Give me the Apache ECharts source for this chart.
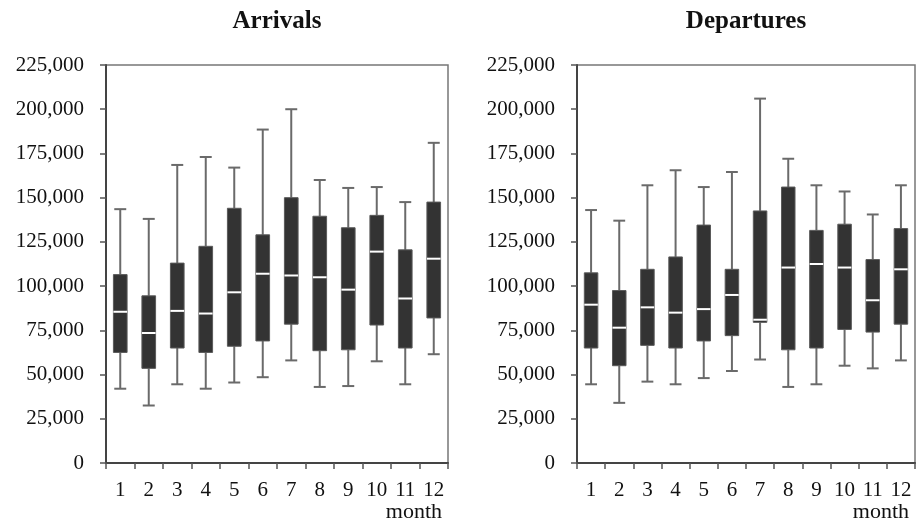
<!DOCTYPE html>
<html>
<head>
<meta charset="utf-8">
<script src="https://cdn.jsdelivr.net/npm/echarts@6/dist/echarts.min.js"></script>
<style>
html,body{margin:0;padding:0;background:#fff;}
#chart{width:916px;height:524px;}
</style>
</head>
<body>
<div id="chart"></div>
<script>
var months = ['1','2','3','4','5','6','7','8','9','10','11','12'];
var yTicks = [0, 25000, 50000, 75000, 100000, 125000, 150000, 175000, 200000, 225000];
var titles = ['Arrivals', 'Departures'];
var xAxisName = 'month';

var arrLow  = [42000, 32500, 44500, 42000, 45500, 48500, 58000, 43000, 43500, 57500, 44500, 61500];
var arrQ1   = [62500, 53500, 65000, 62500, 66000, 69000, 78500, 63500, 64000, 78000, 65000, 82000];
var arrMed  = [85500, 73500, 86000, 84500, 96500, 107000, 106000, 105000, 98000, 119500, 93000, 115500];
var arrQ3   = [106500, 94500, 113000, 122500, 144000, 129000, 150000, 139500, 133000, 140000, 120500, 147500];
var arrHigh = [143500, 138000, 168500, 173000, 167000, 188500, 200000, 160000, 155500, 156000, 147500, 181000];

var depLow  = [44500, 34000, 46000, 44500, 48000, 52000, 58500, 43000, 44500, 55000, 53500, 58000];
var depQ1   = [65000, 55000, 66500, 65000, 69000, 72000, 79500, 64000, 65000, 75500, 74000, 78500];
var depMed  = [89500, 76500, 88000, 85000, 87000, 95000, 81000, 110500, 112500, 110500, 92000, 109500];
var depQ3   = [107500, 97500, 109500, 116500, 134500, 109500, 142500, 156000, 131500, 135000, 115000, 132500];
var depHigh = [143000, 137000, 157000, 165500, 156000, 164500, 206000, 172000, 157000, 153500, 140500, 157000];

function buildRows(lo, q1, med, q3, hi) {
  return months.map(function (m, i) { return [i, lo[i], q1[i], med[i], q3[i], hi[i]]; });
}

var FONT = '"Liberation Serif", "DejaVu Serif", serif';

function renderBox(params, api) {
  var x = api.value(0);
  var pLow = api.coord([x, api.value(1)]);
  var pQ1 = api.coord([x, api.value(2)]);
  var pMed = api.coord([x, api.value(3)]);
  var pQ3 = api.coord([x, api.value(4)]);
  var pHigh = api.coord([x, api.value(5)]);
  var band = api.size([1, 0])[0];
  var bw = band * 0.48;
  var cw = band * 0.42;
  var cx = pMed[0];
  var wStyle = { stroke: '#6a6a6a', lineWidth: 2 };
  return {
    type: 'group',
    children: [
      { type: 'line', shape: { x1: cx, y1: pQ3[1], x2: cx, y2: pHigh[1] }, style: wStyle },
      { type: 'line', shape: { x1: cx - cw / 2, y1: pHigh[1], x2: cx + cw / 2, y2: pHigh[1] }, style: wStyle },
      { type: 'line', shape: { x1: cx, y1: pQ1[1], x2: cx, y2: pLow[1] }, style: wStyle },
      { type: 'line', shape: { x1: cx - cw / 2, y1: pLow[1], x2: cx + cw / 2, y2: pLow[1] }, style: wStyle },
      { type: 'rect', shape: { x: cx - bw / 2, y: pQ3[1], width: bw, height: pQ1[1] - pQ3[1] },
        style: { fill: '#333333', stroke: '#5a5a5a', lineWidth: 1 } },
      { type: 'line', shape: { x1: cx - bw / 2, y1: pMed[1], x2: cx + bw / 2, y2: pMed[1] },
        style: { stroke: '#ffffff', lineWidth: 2 } }
    ]
  };
}

var grids = [
  { left: 106, right: 468, top: 65, bottom: 61 },
  { left: 577, right: 1, top: 65, bottom: 61 }
];

function makeX(idx) {
  return {
    type: 'category', gridIndex: idx, data: months, boundaryGap: true,
    axisLine: { show: true, lineStyle: { color: '#444', width: 2 } },
    axisTick: { show: true, length: 6, lineStyle: { color: '#555', width: 1.5 } },
    axisLabel: { color: '#111', fontFamily: FONT, fontSize: 21, margin: 17, interval: 0 },
    splitLine: { show: false },
    name: xAxisName, nameLocation: 'end', nameGap: -6,
    nameTextStyle: { color: '#111', fontFamily: FONT, fontSize: 22, align: 'right', verticalAlign: 'top', padding: [38, 0, 0, 0] }
  };
}
function makeY(idx) {
  return {
    type: 'value', gridIndex: idx, min: yTicks[0], max: yTicks[yTicks.length - 1], interval: yTicks[1] - yTicks[0],
    axisLine: { show: true, lineStyle: { color: '#444', width: 2 } },
    axisTick: { show: true, length: 6, lineStyle: { color: '#555', width: 1.5 } },
    axisLabel: { color: '#111', fontFamily: FONT, fontSize: 21, margin: 22,
      formatter: function (v) { return v.toLocaleString('en-US'); } },
    splitLine: { show: false }
  };
}

var chart = echarts.init(document.getElementById('chart'), null, { renderer: 'canvas' });
chart.setOption({
  animation: false,
  backgroundColor: '#ffffff',
  title: [
    { text: titles[0], left: 277, top: 9, textAlign: 'center', padding: 0,
      textStyle: { fontFamily: FONT, fontSize: 25, fontWeight: 'bold', color: '#111' } },
    { text: titles[1], left: 746, top: 9, textAlign: 'center', padding: 0,
      textStyle: { fontFamily: FONT, fontSize: 25, fontWeight: 'bold', color: '#111' } }
  ],
  grid: grids.map(function (g) {
    return Object.assign({ show: true, borderColor: '#777', borderWidth: 1.5, backgroundColor: 'transparent' }, g);
  }),
  xAxis: [makeX(0), makeX(1)],
  yAxis: [makeY(0), makeY(1)],
  series: [
    { type: 'custom', xAxisIndex: 0, yAxisIndex: 0, renderItem: renderBox,
      encode: { x: 0, y: [1, 2, 3, 4, 5] },
      data: buildRows(arrLow, arrQ1, arrMed, arrQ3, arrHigh) },
    { type: 'custom', xAxisIndex: 1, yAxisIndex: 1, renderItem: renderBox,
      encode: { x: 0, y: [1, 2, 3, 4, 5] },
      data: buildRows(depLow, depQ1, depMed, depQ3, depHigh) }
  ]
});
</script>
</body>
</html>
